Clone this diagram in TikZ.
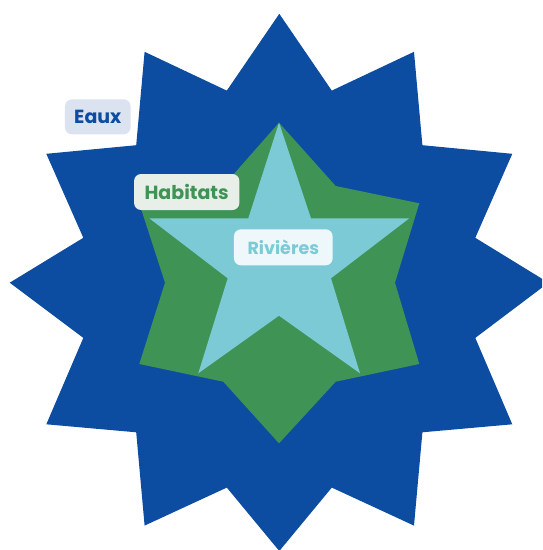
\documentclass[tikz,border=0pt]{standalone}
\usepackage{fontspec}
\setmainfont{Poppins}
\definecolor{eauxblue}{HTML}{0C4DA2}
\definecolor{habgreen}{HTML}{3F9455}
\definecolor{rivcyan}{HTML}{7CCAD5}
\definecolor{eauxbg}{HTML}{DCE3F0}
\definecolor{habbg}{HTML}{E8EEE8}
\definecolor{rivbg}{HTML}{EEF8FA}
\tikzset{
  tag/.style={rounded corners=7pt, inner sep=0pt, anchor=center, font=\bfseries\fontsize{19}{22}\selectfont},
}
\begin{document}
\begin{tikzpicture}[x=1pt,y=-1pt]
\useasboundingbox (0,0) rectangle (542,550);
\clip (0,0) rectangle (542,550);
\fill[eauxblue] (279.3,13.8) -- (331.8,90.6) -- (414,51.8) -- (422.4,145.2) -- (512.3,153.8) -- (475.3,237.8) -- (548.5,282.7) -- (475.3,337.9) -- (512.3,424.3) -- (422.4,432.3) -- (414,525.6) -- (331.8,487.6) -- (279.3,551) -- (226.8,487.6) -- (144.6,525.6) -- (136.2,432.3) -- (46.3,424.3) -- (83.3,337.9) -- (9.7,282.7) -- (83.3,237.8) -- (46.3,153.8) -- (136.2,145.2) -- (144.6,51.8) -- (226.8,90.6) -- cycle;
\fill[habgreen] (279,122.7) -- (335.7,186) -- (419.3,203.3) -- (395,282.7) -- (419.3,364) -- (335.7,381.7) -- (279,443.3) -- (223.3,381.7) -- (139.3,364) -- (165,282.7) -- (139.3,203.3) -- (223.3,186) -- cycle;
\fill[rivcyan] (279,122.7) -- (311,218.3) -- (409.3,218.3) -- (331,278.3) -- (360,373.3) -- (279,315.7) -- (198.3,373.3) -- (227.7,278.3) -- (149.3,218.3) -- (248.3,218.3) -- cycle;
\node[tag, fill=eauxbg, text=eauxblue, minimum width=65.7pt, minimum height=35pt] (eaux) at (97.8,116.8) {Eaux};
\node[tag, fill=habbg, text=habgreen, minimum width=105.3pt, minimum height=36pt] (habitats) at (186.7,192) {Habitats};
\node[tag, fill=rivbg, text=rivcyan, minimum width=98.7pt, minimum height=36pt] (rivieres) at (283.3,247.3) {\fontsize{17.5}{20}\selectfont Rivières};
\end{tikzpicture}
\end{document}
